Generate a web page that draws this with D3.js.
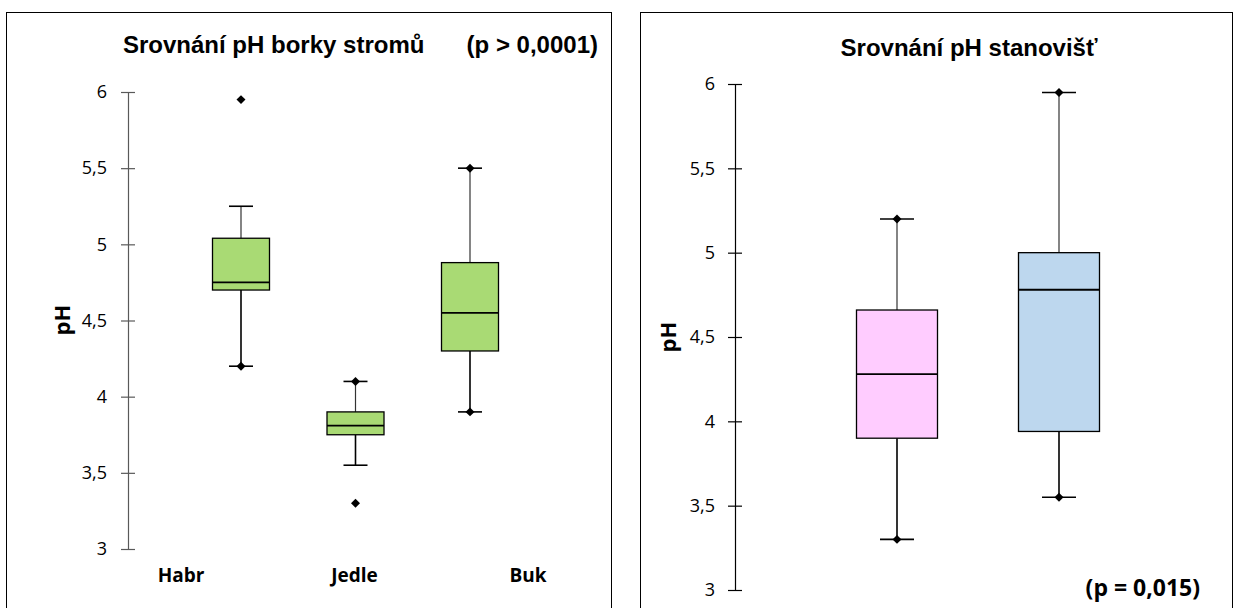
<!DOCTYPE html>
<meta charset="utf-8">
<script src="https://d3js.org/d3.v7.min.js"></script>
<style>
  body { margin: 0; background: #fff; }
  .tick text { font-family: "Open Sans", "Noto Sans", sans-serif; }
</style>
<div id="chart"></div>
<script>
// ---- data: left panel (bark pH per tree species)
var trees = ["Habr", "Jedle", "Buk"];
var treeQ1 = [4.70, 3.75, 4.30];
var treeMed = [4.75, 3.81, 4.55];
var treeQ3 = [5.04, 3.90, 4.88];
var treeLow = [4.20, 3.55, 3.90];
var treeHigh = [5.25, 4.10, 5.50];
var treeMin = [4.20, 3.30, 3.90];
var treeMax = [5.95, 4.10, 5.50];

// ---- data: right panel (site pH)
var sites = ["A", "B"];
var siteQ1 = [3.90, 3.94];
var siteMed = [4.28, 4.78];
var siteQ3 = [4.66, 5.00];
var siteLow = [3.30, 3.55];
var siteHigh = [5.20, 5.95];
var siteMin = [3.30, 3.55];
var siteMax = [5.20, 5.95];
var siteColors = ["#ffccff", "#bdd7ee"];

var yTicks = [3, 3.5, 4, 4.5, 5, 5.5, 6];
var fmt = function (d) { return String(d).replace(".", ","); };

var svg = d3.select("#chart").append("svg")
    .attr("width", 1238).attr("height", 608);

// panel frames
svg.append("rect").attr("x", 6.5).attr("y", 12.5).attr("width", 605).attr("height", 610)
    .attr("fill", "none").attr("stroke", "#000").attr("stroke-width", 1);
svg.append("rect").attr("x", 640.5).attr("y", 12.5).attr("width", 592).attr("height", 610)
    .attr("fill", "none").attr("stroke", "#000").attr("stroke-width", 1);

function drawBoxes(g, cats, x, y, q1, med, q3, low, high, mn, mx, fill, boxW, capW) {
    var rows = cats.map(function (c, i) {
        return {c: c, q1: q1[i], med: med[i], q3: q3[i], low: low[i], high: high[i],
                min: mn[i], max: mx[i], fill: typeof fill === "string" ? fill : fill[i]};
    });
    var b = g.selectAll(".box").data(rows).enter().append("g");
    // whiskers
    b.append("line").attr("x1", function (d) { return x(d.c); }).attr("x2", function (d) { return x(d.c); })
        .attr("y1", function (d) { return y(d.high); }).attr("y2", function (d) { return y(d.q3); })
        .attr("stroke", "#333").attr("stroke-width", 1.2);
    b.append("line").attr("x1", function (d) { return x(d.c); }).attr("x2", function (d) { return x(d.c); })
        .attr("y1", function (d) { return y(d.q1); }).attr("y2", function (d) { return y(d.low); })
        .attr("stroke", "#000").attr("stroke-width", 1.6);
    // caps
    ["high", "low"].forEach(function (k) {
        b.append("line").attr("x1", function (d) { return x(d.c) - capW / 2; })
            .attr("x2", function (d) { return x(d.c) + capW / 2; })
            .attr("y1", function (d) { return y(d[k]); }).attr("y2", function (d) { return y(d[k]); })
            .attr("stroke", "#000").attr("stroke-width", 1.6);
    });
    // box
    b.append("rect").attr("x", function (d) { return x(d.c) - boxW / 2; })
        .attr("y", function (d) { return y(d.q3); })
        .attr("width", boxW).attr("height", function (d) { return y(d.q1) - y(d.q3); })
        .attr("fill", function (d) { return d.fill; })
        .attr("stroke", "#000").attr("stroke-width", 1.3);
    b.append("line").attr("x1", function (d) { return x(d.c) - boxW / 2; })
        .attr("x2", function (d) { return x(d.c) + boxW / 2; })
        .attr("y1", function (d) { return y(d.med); }).attr("y2", function (d) { return y(d.med); })
        .attr("stroke", "#000").attr("stroke-width", 1.8);
    // min / max markers (square turned 45 degrees)
    var sym = d3.symbol().type(d3.symbolSquare).size(40);
    ["min", "max"].forEach(function (k) {
        b.append("path").attr("d", sym)
            .attr("transform", function (d) { return "translate(" + x(d.c) + "," + y(d[k]) + ") rotate(45)"; })
            .attr("fill", "#000");
    });
}

function drawAxis(g, xPos, y, color, pad) {
    var ax = g.append("g").attr("transform", "translate(" + xPos + ",0)")
        .call(d3.axisLeft(y).tickValues(yTicks).tickFormat(fmt).tickSize(0).tickPadding(pad));
    ax.select(".domain").attr("stroke", color).attr("stroke-width", 1.2);
    ax.selectAll(".tick line").remove();
    ax.selectAll(".tick").append("line").attr("x1", -7).attr("x2", 7)
        .attr("stroke", color).attr("stroke-width", 1.2);
    ax.selectAll(".tick text").attr("font-size", 18).attr("fill", "#000");
}

// ---- left panel
var yL = d3.scaleLinear().domain([3, 6]).range([549, 92]);
var xL = d3.scalePoint().domain(trees).range([241, 470]);
var xLabL = d3.scalePoint().domain(trees).range([181, 528]);
var gL = svg.append("g");
drawAxis(gL, 128, yL, "#595959", 21);
drawBoxes(gL, trees, xL, yL, treeQ1, treeMed, treeQ3, treeLow, treeHigh, treeMin, treeMax, "#a9da74", 57, 24);
gL.selectAll(".cat").data(trees).enter().append("text")
    .attr("x", function (d) { return xLabL(d); }).attr("y", 582)
    .attr("text-anchor", "middle").attr("font-family", "Open Sans, sans-serif")
    .attr("font-weight", "bold").attr("font-size", 19).text(function (d) { return d; });
gL.append("text").attr("x", 123).attr("y", 53)
    .attr("font-family", "Liberation Sans, Arial, sans-serif").attr("font-weight", "bold")
    .attr("font-size", 24).text("Srovnání pH borky stromů");
gL.append("text").attr("x", 598).attr("y", 53).attr("text-anchor", "end")
    .attr("font-family", "Liberation Sans, Arial, sans-serif").attr("font-weight", "bold")
    .attr("font-size", 24).text("(p > 0,0001)");
gL.append("text").attr("transform", "translate(70,320) rotate(-90)").attr("text-anchor", "middle")
    .attr("font-family", "Open Sans, sans-serif").attr("font-weight", "bold")
    .attr("font-size", 22).text("pH");

// ---- right panel
var yR = d3.scaleLinear().domain([3, 6]).range([590, 84]);
var xR = d3.scalePoint().domain(sites).range([897, 1059]);
var gR = svg.append("g");
drawAxis(gR, 735, yR, "#000", 20);
drawBoxes(gR, sites, xR, yR, siteQ1, siteMed, siteQ3, siteLow, siteHigh, siteMin, siteMax, siteColors, 81, 34);
gR.append("text").attr("x", 969).attr("y", 56).attr("text-anchor", "middle")
    .attr("font-family", "Liberation Sans, Arial, sans-serif").attr("font-weight", "bold")
    .attr("font-size", 24).text("Srovnání pH stanovišť");
gR.append("text").attr("x", 1200).attr("y", 596).attr("text-anchor", "end")
    .attr("font-family", "Open Sans, sans-serif").attr("font-weight", "bold")
    .attr("font-size", 23).text("(p = 0,015)");
gR.append("text").attr("transform", "translate(676,337) rotate(-90)").attr("text-anchor", "middle")
    .attr("font-family", "Open Sans, sans-serif").attr("font-weight", "bold")
    .attr("font-size", 22).text("pH");
</script>
